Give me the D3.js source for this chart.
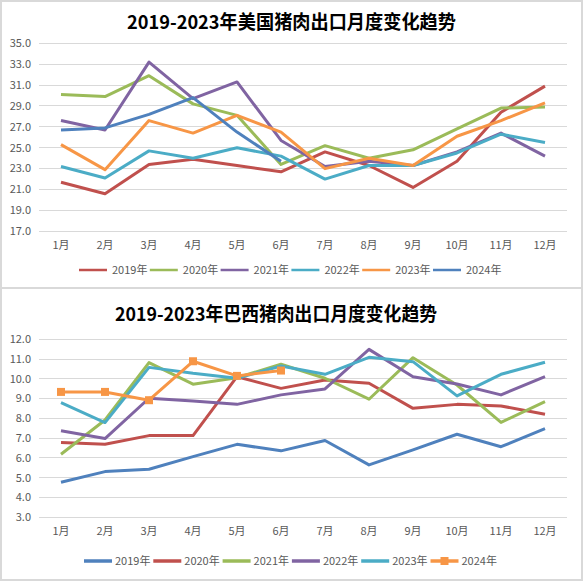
<!DOCTYPE html>
<html><head><meta charset="utf-8">
<script src="https://cdn.jsdelivr.net/npm/d3@7"></script>
<style>
html,body{margin:0;padding:0;background:#fff;}
svg{display:block;}
text{font-family:"Noto Sans CJK SC","Noto Sans",sans-serif;}
</style></head>
<body>
<svg id="c" width="584" height="581"></svg>
<script>
const months = ["1月","2月","3月","4月","5月","6月","7月","8月","9月","10月","11月","12月"];

// 美国 (top chart)
const usTitle = "2019-2023年美国猪肉出口月度变化趋势";
const usYTicks = [17,19,21,23,25,27,29,31,33,35];
const us2019 = [21.7,20.6,23.4,23.9,23.3,22.7,24.6,23.3,21.2,23.7,28.4,30.9];
const us2020 = [30.1,29.9,31.9,29.2,28.1,23.4,25.2,24.0,24.8,26.8,28.8,28.9];
const us2021 = [27.6,26.7,33.2,29.7,31.3,25.7,23.2,23.7,23.3,24.6,26.4,24.2];
const us2022 = [23.2,22.1,24.7,24.0,25.0,24.2,22.0,23.3,23.3,24.5,26.3,25.5];
const us2023 = [25.3,22.9,27.6,26.4,28.1,26.5,23.0,24.0,23.3,26.1,27.6,29.3];
const us2024 = [26.7,26.9,28.2,29.8,26.5,23.7];

// 巴西 (bottom chart)
const brTitle = "2019-2023年巴西猪肉出口月度变化趋势";
const brYTicks = [3,4,5,6,7,8,9,10,11,12];
const br2019 = [4.77,5.31,5.43,6.07,6.69,6.36,6.88,5.65,6.41,7.20,6.57,7.48];
const br2020 = [6.78,6.69,7.13,7.13,10.11,9.52,9.94,9.78,8.51,8.71,8.63,8.21];
const br2021 = [6.19,7.92,10.82,9.73,10.06,10.74,10.03,8.97,11.07,9.69,7.80,8.85];
const br2022 = [7.38,6.98,9.02,8.88,8.71,9.19,9.49,11.49,10.11,9.74,9.19,10.11];
const br2023 = [8.80,7.79,10.58,10.28,10.03,10.65,10.23,11.09,10.87,9.14,10.23,10.84];
const br2024 = [9.34,9.34,8.92,10.89,10.15,10.42];

const C = {blue:"#4F81BD", red:"#C0504D", green:"#9BBB59", purple:"#8064A2", cyan:"#4BACC6", orange:"#F79646"};

const usSeries = [
  {name:"2019年", values:us2019, color:C.red},
  {name:"2020年", values:us2020, color:C.green},
  {name:"2021年", values:us2021, color:C.purple},
  {name:"2022年", values:us2022, color:C.cyan},
  {name:"2023年", values:us2023, color:C.orange},
  {name:"2024年", values:us2024, color:C.blue}
];
const brSeries = [
  {name:"2019年", values:br2019, color:C.blue},
  {name:"2020年", values:br2020, color:C.red},
  {name:"2021年", values:br2021, color:C.green},
  {name:"2022年", values:br2022, color:C.purple},
  {name:"2023年", values:br2023, color:C.cyan},
  {name:"2024年", values:br2024, color:C.orange, marker:true}
];

const svg = d3.select("#c");
svg.append("rect").attr("width",584).attr("height",581).attr("fill","#fff");

function panel(cfg){
  const g = svg.append("g");
  g.append("rect").attr("x",cfg.px).attr("y",cfg.py).attr("width",cfg.pw).attr("height",cfg.ph)
    .attr("fill","#fff").attr("stroke","#d9d9d9").attr("stroke-width",2);
  g.append("text").attr("x",cfg.titleX).attr("y",cfg.titleY).attr("font-size",19).attr("font-weight","bold")
    .attr("fill","#000").attr("textLength",cfg.titleW).attr("lengthAdjust","spacingAndGlyphs").text(cfg.title);

  const x = d3.scalePoint().domain(months).range([39,567]).padding(0.5);
  const y = d3.scaleLinear().domain(cfg.domain).range(cfg.yRange);

  g.append("g").selectAll("line").data(cfg.ticks).join("line")
    .attr("x1",39).attr("x2",567).attr("y1",d=>y(d)).attr("y2",d=>y(d))
    .attr("stroke","#d9d9d9").attr("stroke-width",1).attr("shape-rendering","crispEdges");

  g.append("g").selectAll("text").data(cfg.ticks).join("text")
    .attr("x",31).attr("y",d=>y(d)).attr("dy","0.35em").attr("text-anchor","end")
    .attr("font-size",11).attr("fill","#595959").text(d=>d.toFixed(1));

  g.append("g").selectAll("text").data(months).join("text")
    .attr("x",d=>x(d)).attr("y",cfg.yRange[0]+14).attr("dy","0.35em").attr("text-anchor","middle")
    .attr("font-size",11).attr("fill","#595959").text(d=>d);

  const line = d3.line().x((d,i)=>x(months[i])).y(d=>y(d));
  cfg.series.forEach(s=>{
    g.append("path").attr("d",line(s.values)).attr("fill","none").attr("stroke",s.color)
      .attr("stroke-width",3).attr("stroke-linejoin","round");
    if(s.marker){
      g.append("g").selectAll("rect").data(s.values).join("rect")
        .attr("x",(d,i)=>x(months[i])-4).attr("y",d=>y(d)-4).attr("width",8).attr("height",8)
        .attr("fill",s.color);
    }
  });

  const lg = g.append("g");
  cfg.series.forEach((s,i)=>{
    const lx = cfg.legX + i*cfg.legStep;
    lg.append("line").attr("x1",lx).attr("x2",lx+28).attr("y1",cfg.legY).attr("y2",cfg.legY)
      .attr("stroke",s.color).attr("stroke-width",cfg.legW);
    if(s.marker){
      lg.append("rect").attr("x",lx+14-4).attr("y",cfg.legY-4).attr("width",8).attr("height",8).attr("fill",s.color);
    }
    lg.append("text").attr("x",lx+cfg.legTx).attr("y",cfg.legY).attr("dy","0.35em")
      .attr("font-size",11).attr("fill","#595959").text(s.name);
  });
}

panel({px:1,py:1,pw:581,ph:287,title:usTitle,titleX:127,titleY:29,titleW:329,
  domain:[17,35],yRange:[231.3,43.3],ticks:usYTicks,series:usSeries,
  legX:79,legStep:70.8,legY:270,legW:2.5,legTx:33});
panel({px:1,py:288,pw:581,ph:292,title:brTitle,titleX:115,titleY:321,titleW:322,
  domain:[3,12],yRange:[517.3,339.3],ticks:brYTicks,series:brSeries,
  legX:84,legStep:69.3,legY:561,legW:3.5,legTx:31});
</script>
</body></html>
